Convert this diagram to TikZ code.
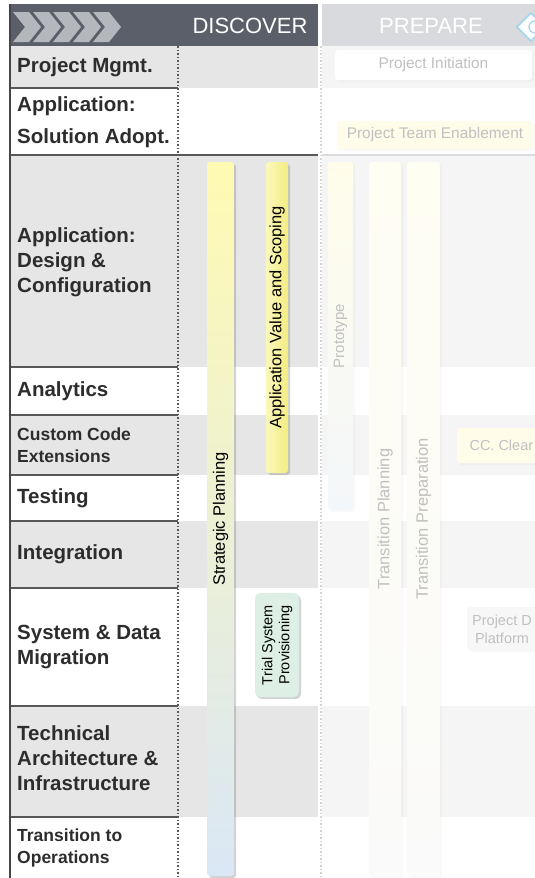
\documentclass[tikz,border=0pt]{standalone}
\usepackage{fontspec}
\setmainfont{Liberation Sans}
\usetikzlibrary{shadows}
\usepackage{xcolor}
\definecolor{headdark}{RGB}{91, 95, 106}
\definecolor{chevgray}{RGB}{180, 183, 188}
\definecolor{headlight}{RGB}{217, 218, 221}
\definecolor{rowgray}{RGB}{230, 230, 230}
\definecolor{rowfaint}{RGB}{245, 245, 245}
\definecolor{linegray}{RGB}{88, 88, 90}
\definecolor{labeltext}{RGB}{45, 45, 45}
\definecolor{stratyellow}{RGB}{255, 250, 178}
\definecolor{stratmid}{RGB}{244, 248, 232}
\definecolor{stratblue}{RGB}{218, 231, 245}
\definecolor{scopeyellow}{RGB}{250, 245, 158}
\definecolor{scopedeep}{RGB}{244, 236, 130}
\definecolor{trialgreen}{RGB}{222, 240, 230}
\definecolor{paleyellow}{RGB}{255, 253, 234}
\definecolor{paleblue}{RGB}{244, 247, 250}
\definecolor{fadegray}{RGB}{192, 192, 192}
\definecolor{diamondblue}{RGB}{160, 215, 240}

\tikzset{
  rowlabel/.style={anchor=west, align=left, inner sep=3pt, text=labeltext, font=\bfseries\fontsize{20.5}{25}\selectfont},
  smalllabel/.style={rowlabel, font=\bfseries\fontsize{17.5}{22}\selectfont},
  rowline/.style={draw=linegray, line width=2pt},
  phasebar/.style={rounded corners=3pt, inner sep=0pt, drop shadow={shadow xshift=2pt, shadow yshift=-2pt, opacity=0.35}},
  fadebar/.style={rounded corners=3pt, inner sep=0pt, drop shadow={shadow xshift=2pt, shadow yshift=-2pt, opacity=0.05}},
  bartext/.style={rotate=90, inner sep=0pt, font=\fontsize{16.5}{18}\selectfont},
  fadetext/.style={text=fadegray, font=\fontsize{15.4}{18}\selectfont},
  phasehead/.style={text=white, font=\fontsize{22}{22}\selectfont},
}

\begin{document}
\begin{tikzpicture}[x=1pt,y=-1pt]
		\useasboundingbox (0,0) rectangle (535,878);
		\clip (0,0) rectangle (535,878);
		% header
		\fill[headdark] (10,4) rectangle (318,46);
		\fill[headlight] (322,4) rectangle (535,46);
		\fill[chevgray] (13,12) -- (29,12) -- (41,27) -- (29,42) -- (13,42) -- (25,27) -- cycle;
		\fill[chevgray] (33,12) -- (49,12) -- (61,27) -- (49,42) -- (33,42) -- (45,27) -- cycle;
		\fill[chevgray] (53,12) -- (69,12) -- (81,27) -- (69,42) -- (53,42) -- (65,27) -- cycle;
		\fill[chevgray] (73,12) -- (89,12) -- (101,27) -- (89,42) -- (73,42) -- (85,27) -- cycle;
		\fill[chevgray] (93,12) -- (109,12) -- (121,27) -- (109,42) -- (93,42) -- (105,27) -- cycle;
		\node[phasehead] (discover) at (250,26) {DISCOVER};
		\node[phasehead] (prepare) at (431,26) {PREPARE};
		\draw[diamondblue, line width=1.5pt, fill=white] (517,27) -- (531,13) -- (545,27) -- (531,41) -- cycle;
		\draw[diamondblue, line width=1.2pt] (535,27) circle[radius=6pt];
		
		%         % grey rows
		\fill[rowgray] (10,46) rectangle (318,88);
		\fill[rowgray] (10,155) rectangle (318,367);
		\fill[rowgray] (10,415) rectangle (318,475);
		\fill[rowgray] (10,521) rectangle (318,588);
		\fill[rowgray] (10,706) rectangle (318,817);
		\fill[rowfaint] (322,46) rectangle (535,88);
		\fill[rowfaint] (322,155) rectangle (535,367);
		\fill[rowfaint] (322,415) rectangle (535,475);
		\fill[rowfaint] (322,521) rectangle (535,588);
		\fill[rowfaint] (322,706) rectangle (535,817);
		
		%         % row borders
		\draw[rowline] (10,88) -- (178,88);
		\draw[rowline] (10,155) -- (318,155);
		\draw[rowline, draw=headlight] (322,155) -- (535,155);
		\draw[rowline] (10,367) -- (178,367);
		\draw[rowline] (10,415) -- (178,415);
		\draw[rowline] (10,475) -- (178,475);
		\draw[rowline] (10,521) -- (178,521);
		\draw[rowline] (10,588) -- (178,588);
		\draw[rowline] (10,706) -- (178,706);
		\draw[rowline] (10,817) -- (178,817);
		\draw[linegray!80!black, line width=2pt] (10,4) -- (10,878);
		\draw[linegray, line width=1.5pt, dash pattern=on 1.5pt off 2pt] (178,46) -- (178,878);
		\draw[fadegray!70, line width=1.2pt, dash pattern=on 1.5pt off 2pt] (321,46) -- (321,878);
		
		% row names
		\node[rowlabel] (pm) at (14,67) {Project Mgmt.};
		\node[rowlabel] (adopt) at (14,122) {Application:\\[7pt]Solution Adopt.};
		\node[rowlabel] (design) at (14,262) {Application:\\Design \&\\Configuration};
		\node[rowlabel] (analytics) at (14,391) {Analytics};
		\node[smalllabel] (custom) at (14,445) {Custom Code\\Extensions};
		\node[rowlabel] (testing) at (14,498) {Testing};
		\node[rowlabel] (integration) at (14,554) {Integration};
		\node[rowlabel] (migration) at (14,647) {System \& Data\\Migration};
		\node[rowlabel] (techarch) at (14,758) {Technical\\Architecture \&\\Infrastructure};
		\node[smalllabel] (operations) at (14,848) {Transition to\\Operations};
		
		% discover bars
		\node[phasebar, minimum width=27pt, minimum height=714pt, top color=stratyellow, middle color=stratmid, bottom color=stratblue] (strat) at (220.5,519) {};
		\node[bartext] (stratlabel) at (strat.center) {Strategic Planning};
		\node[phasebar, minimum width=22pt, minimum height=311pt, left color=scopeyellow!70!white, right color=scopedeep] (scoping) at (277,317.5) {};
		\node[bartext] (scopinglabel) at (scoping.center) {Application Value and Scoping};
		\node[phasebar, rounded corners=5pt, fill=trialgreen, minimum width=44pt, minimum height=104pt] (trial) at (277,645) {};
		\node[bartext, align=center, font=\fontsize{14.5}{17}\selectfont] (triallabel) at (trial.center) {Trial System\\Provisioning};
		
		%%%%%%%%%%%% prepare (faded)
		\node[fadebar, fadetext, fill=white, minimum width=197pt, minimum height=30pt] (init) at (433.5,65) {Project Initiation};
		\node[fadebar, fadetext, fill=paleyellow, minimum width=196pt, minimum height=28pt] (team) at (435,135) {Project Team Enablement};
		\node[fadebar, minimum width=25pt, minimum height=348pt, top color=paleyellow, bottom color=paleblue] (proto) at (340.5,336) {};
		\node[bartext, text=fadegray, font=\fontsize{15}{18}\selectfont] (protolabel) at (proto.center) {Prototype};
		\node[fadebar, minimum width=32pt, minimum height=714pt, top color=paleyellow!60!white, bottom color=white!98!black] (tplan) at (385,519) {};
		\node[bartext, text=fadegray] (tplanlabel) at (tplan.center) {Transition Planning};
		\node[fadebar, minimum width=33pt, minimum height=714pt, top color=paleyellow!60!white, bottom color=white!98!black] (tprep) at (423.5,519) {};
		\node[bartext, text=fadegray] (tpreplabel) at (tprep.center) {Transition Preparation};
		\node[fadebar, fill=paleyellow, minimum width=88pt, minimum height=35pt] (clear) at (501,445.5) {};
		\node[fadetext, anchor=west, font=\fontsize{14.5}{18}\selectfont] (clearlabel) at (466,445) {CC. Clear};
		\node[fadebar, fill=white!97!black, minimum width=78pt, minimum height=43pt] (platform) at (506,628.5) {};
		\node[fadetext, align=center, font=\fontsize{14.5}{18}\selectfont] (platformlabel) at (502,629) {Project D\\Platform};
	\end{tikzpicture}
\end{document}
